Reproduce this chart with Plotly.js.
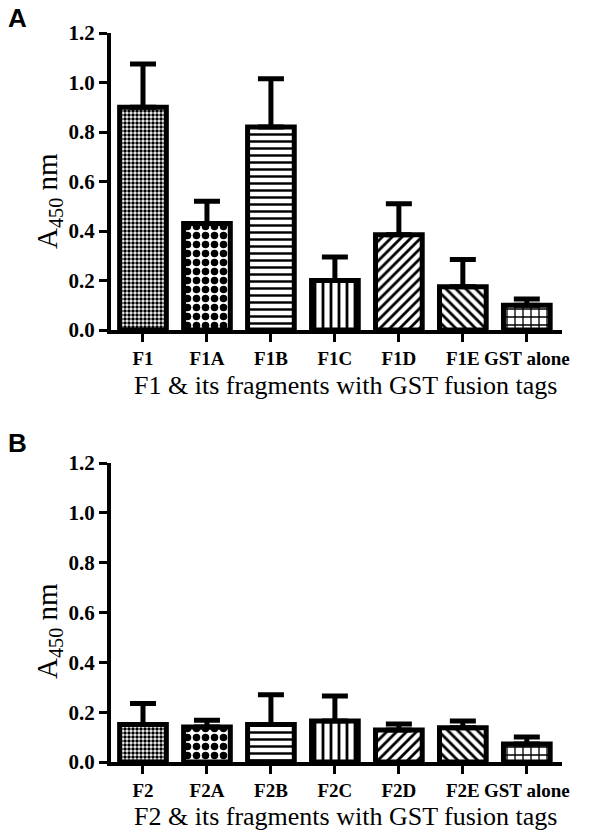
<!DOCTYPE html>
<html>
<head>
<meta charset="utf-8">
<script src="https://cdn.plot.ly/plotly-3.0.1.min.js"></script>
<style>html,body{margin:0;padding:0;background:#fff;}#chart{width:605px;height:839px;}</style>
</head>
<body>
<div id="chart"></div>
<script>
// ---- data ----
const categoriesA = ["F1", "F1A", "F1B", "F1C", "F1D", "F1E", "GST alone"];
const valuesA = [0.90, 0.43, 0.82, 0.20, 0.385, 0.175, 0.10];
const errorsA = [0.175, 0.09, 0.195, 0.095, 0.125, 0.11, 0.025];

const categoriesB = ["F2", "F2A", "F2B", "F2C", "F2D", "F2E", "GST alone"];
const valuesB = [0.15, 0.14, 0.15, 0.165, 0.128, 0.137, 0.072];
const errorsB = [0.085, 0.028, 0.12, 0.10, 0.025, 0.028, 0.028];

const noMinus = [0, 0, 0, 0, 0, 0, 0];
const yTickVals = [0, 0.2, 0.4, 0.6, 0.8, 1.0, 1.2];
const yTickText = ["0.0", "0.2", "0.4", "0.6", "0.8", "1.0", "1.2"];
const xTitleA = "F1 &amp; its fragments with GST fusion tags";
const xTitleB = "F2 &amp; its fragments with GST fusion tags";
const yTitle = "A<sub>450</sub> nm";

// ---- styles ----
const patShapes = [".", ".", "-", "|", "/", "\\", "+"];
const patSizes = [4, 9, 7, 8, 7, 7, 8];
const patSolid = [0.6, 0.55, 0.35, 0.35, 0.4, 0.4, 0.3];

function barTrace(cats, vals, errs, xa, ya) {
  return {
    type: "bar",
    x: cats,
    y: vals,
    xaxis: xa,
    yaxis: ya,
    width: 0.73,
    marker: {
      color: "white",
      line: {color: "black", width: 5},
      pattern: {shape: patShapes, size: patSizes, solidity: patSolid, fgcolor: "black", bgcolor: "white", fillmode: "replace"}
    },
    error_y: {type: "data", symmetric: false, array: errs, arrayminus: noMinus, color: "black", thickness: 5, width: 13},
    hoverinfo: "skip"
  };
}

const W = 605, H = 839;
const px = v => v / W;
const py = v => 1 - v / H;

const serif = "Liberation Serif";
const tickFont = {family: serif, size: 19, color: "black", weight: "bold"};
function xAxis(anchor) {
  return {
    domain: [px(111), px(562)],
    anchor: anchor,
    range: [-0.5, 6.55],
    showline: true, linecolor: "black", linewidth: 4,
    ticks: "outside", ticklen: 8, tickwidth: 3, tickcolor: "black",
    tickangle: 0,
    showgrid: false, zeroline: false,
    tickfont: tickFont, fixedrange: true
  };
}
function yAxis(anchor, top, bottom) {
  return {
    domain: [py(bottom), py(top)],
    anchor: anchor,
    range: [0, 1.2],
    tickvals: yTickVals, ticktext: yTickText,
    showline: true, linecolor: "black", linewidth: 4,
    ticks: "outside", ticklen: 8, tickwidth: 3, tickcolor: "black",
    showgrid: false, zeroline: false,
    tickfont: {family: serif, size: 21, color: "black", weight: "bold"}, fixedrange: true
  };
}

const titleFont = {family: serif, size: 26, color: "black"};
const yTitleFont = {family: serif, size: 29, color: "black"};
const letterFont = {family: "Liberation Sans", size: 26, color: "black", weight: "bold"};

const annotations = [
  {text: "A", x: px(17), y: py(18), xref: "paper", yref: "paper", showarrow: false, font: letterFont, xanchor: "center", yanchor: "middle"},
  {text: "B", x: px(17), y: py(443), xref: "paper", yref: "paper", showarrow: false, font: letterFont, xanchor: "center", yanchor: "middle"},
  {text: xTitleA, x: px(345), y: py(385), xref: "paper", yref: "paper", showarrow: false, font: titleFont, xanchor: "center", yanchor: "middle"},
  {text: xTitleB, x: px(345), y: py(816), xref: "paper", yref: "paper", showarrow: false, font: titleFont, xanchor: "center", yanchor: "middle"},
  {text: yTitle, x: px(49), y: py(201), xref: "paper", yref: "paper", showarrow: false, font: yTitleFont, textangle: -90, xanchor: "center", yanchor: "middle"},
  {text: yTitle, x: px(49), y: py(631), xref: "paper", yref: "paper", showarrow: false, font: yTitleFont, textangle: -90, xanchor: "center", yanchor: "middle"}
];

const layout = {
  width: W, height: H,
  margin: {l: 0, r: 0, t: 0, b: 0},
  paper_bgcolor: "white", plot_bgcolor: "white",
  showlegend: false,
  xaxis: xAxis("y"),
  yaxis: yAxis("x", 33, 330),
  xaxis2: xAxis("y2"),
  yaxis2: yAxis("x2", 463, 762),
  annotations: annotations
};

Plotly.newPlot("chart", [
  barTrace(categoriesA, valuesA, errorsA, "x", "y"),
  barTrace(categoriesB, valuesB, errorsB, "x2", "y2")
], layout, {staticPlot: true, displayModeBar: false});
</script>
</body>
</html>
